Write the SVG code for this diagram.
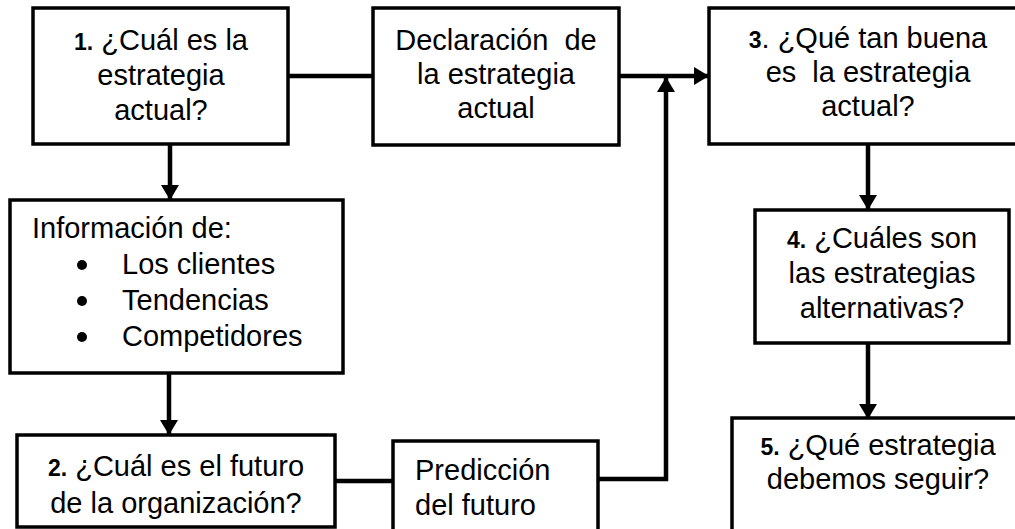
<svg xmlns="http://www.w3.org/2000/svg" width="1015" height="529" viewBox="0 0 1015 529">
<style>
.box{fill:#fff;stroke:#000;stroke-width:3.5}
.t{font-family:"Liberation Sans",Arial,sans-serif;font-size:29px;fill:#000}
.c{text-anchor:middle}
.n{font-weight:bold;font-size:23px}
.conn{fill:none;stroke:#000;stroke-width:4.5}
.bul{fill:#000}
</style>
<defs>
<marker id="ah" markerUnits="userSpaceOnUse" viewBox="0 0 15 18" refX="14" refY="9" markerWidth="15" markerHeight="18" orient="auto">
<path d="M0,0 L15,9 L0,18 z" fill="#000"/>
</marker>
</defs>
<rect width="1015" height="529" fill="#fff"/>
<g id="connectors">
<line class="conn" x1="288" y1="76" x2="373" y2="76"/>
<line class="conn" x1="619" y1="76" x2="708" y2="76" marker-end="url(#ah)"/>
<line class="conn" x1="170" y1="144" x2="170" y2="199" marker-end="url(#ah)"/>
<line class="conn" x1="169" y1="373" x2="169" y2="434" marker-end="url(#ah)"/>
<line class="conn" x1="335" y1="481" x2="393" y2="481"/>
<polyline class="conn" points="598,479 666,479 666,78" marker-end="url(#ah)"/>
<line class="conn" x1="868" y1="144" x2="868" y2="209" marker-end="url(#ah)"/>
<line class="conn" x1="868" y1="343" x2="868" y2="418" marker-end="url(#ah)"/>
</g>
<g id="n1">
<rect class="box" x="33" y="8" width="255" height="136"/>
<text class="t c" x="161" y="50"><tspan class="n">1.</tspan> ¿Cuál es la</text>
<text class="t c" x="161" y="85">estrategia</text>
<text class="t c" x="161" y="120">actual?</text>
</g>
<g id="decl">
<rect class="box" x="373" y="8" width="246" height="137"/>
<text class="t c" x="496" y="50" xml:space="preserve">Declaración  de</text>
<text class="t c" x="496" y="84">la estrategia</text>
<text class="t c" x="496" y="118">actual</text>
</g>
<g id="n3">
<rect class="box" x="709" y="8" width="318" height="136"/>
<text class="t c" x="868" y="48"><tspan class="n">3</tspan>. ¿Qué tan buena</text>
<text class="t c" x="868" y="82" xml:space="preserve">es  la estrategia</text>
<text class="t c" x="868" y="116">actual?</text>
</g>
<g id="info">
<rect class="box" x="10" y="200" width="333" height="173"/>
<text class="t" x="32" y="238">Información de:</text>
<circle class="bul" cx="82" cy="265" r="5"/>
<text class="t" x="122" y="274">Los clientes</text>
<circle class="bul" cx="82" cy="301" r="5"/>
<text class="t" x="122" y="310">Tendencias</text>
<circle class="bul" cx="82" cy="337" r="5"/>
<text class="t" x="122" y="346">Competidores</text>
</g>
<g id="n4">
<rect class="box" x="755" y="210" width="254" height="133"/>
<text class="t c" x="882" y="248"><tspan class="n">4.</tspan> ¿Cuáles son</text>
<text class="t c" x="882" y="283">las estrategias</text>
<text class="t c" x="882" y="318">alternativas?</text>
</g>
<g id="n2">
<rect class="box" x="17" y="435" width="318" height="92"/>
<text class="t c" x="176" y="476"><tspan class="n">2.</tspan> ¿Cuál es el futuro</text>
<text class="t c" x="176" y="513">de la organización?</text>
</g>
<g id="pred">
<rect class="box" x="393" y="441" width="205" height="100"/>
<text class="t" x="415" y="480">Predicción</text>
<text class="t" x="415" y="515">del futuro</text>
</g>
<g id="n5">
<rect class="box" x="732" y="418" width="292" height="120"/>
<text class="t c" x="878" y="455"><tspan class="n">5.</tspan> ¿Qué estrategia</text>
<text class="t c" x="878" y="489">debemos seguir?</text>
</g>
</svg>
